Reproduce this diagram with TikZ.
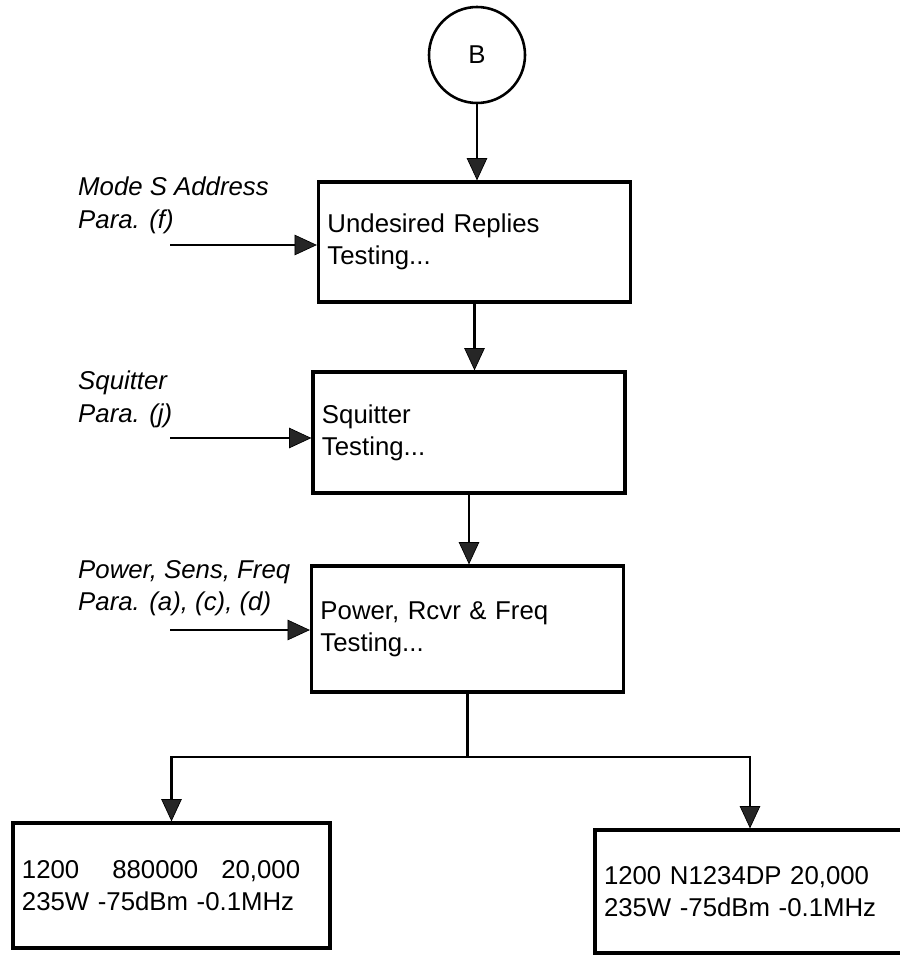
\documentclass[tikz,border=0pt]{standalone}
\usepackage{fontspec}
\setmainfont{Liberation Sans}
\usetikzlibrary{arrows.meta}
\newcommand{\stagefont}{\fontsize{22}{27.4}\selectfont}

\begin{document}
\begin{tikzpicture}[
    x=0.03cm, y=-0.03cm,
    stage/.style={draw, line width=2.8pt, minimum width=9.36cm, text width=8.82cm, inner xsep=0.27cm, align=left, font=\stagefont},
    result/.style={draw, line width=2.8pt, inner xsep=0.27cm, align=left, font=\stagefont},
    note/.style={inner sep=0pt, anchor=north west, align=left, font=\stagefont\itshape},
    flow/.style={-{Triangle[length=19pt, width=17.5pt, line width=0.6pt, fill=black!85]}, line width=2.5pt},
    link/.style={line width=2.5pt},
]
    \useasboundingbox (0,0) rectangle (899,958);

    % Connector circle
    \node[draw, circle, line width=2.2pt, minimum size=2.88cm, font=\stagefont] (cB) at (477,55) {B};

    % Test stages
    \node[stage, minimum height=3.6cm] (b1) at (474.5,242) {Undesired Replies\\Testing...};
    \node[stage, minimum height=3.63cm] (b2) at (469,432.5) {Squitter\\Testing...};
    \node[stage, minimum height=3.78cm] (b3) at (467.5,629) {Power, Rcvr \& Freq\\Testing...};

    % Input parameters
    \node[note] (p1) at (78,177) {Mode S Address\\Para. (f)};
    \node[note] (p2) at (78,371) {Squitter\\Para. (j)};
    \node[note] (p3) at (78,560) {Power, Sens, Freq\\Para. (a), (c), (d)};
    \coordinate (in1) at (170,245);
    \coordinate (in2) at (170,438);
    \coordinate (in3) at (170,630);

    % Results
    \node[result, text width=8.97cm, minimum height=3.75cm] (r1) at (171.5,885.5) {1200\hspace{0.99cm}880000\hspace{0.69cm}20,000\\235W -75dBm -0.1MHz};
    \node[result, text width=8.76cm, minimum height=3.69cm] (r2) at (750,891.5) {1200 N1234DP 20,000\\235W -75dBm -0.1MHz};

    % Arrows
    \draw[flow] (cB.south) -- (cB.south |- b1.north);
    \draw[flow] (b1.south) -- (b1.south |- b2.north);
    \draw[flow] (b2.south) -- (b2.south |- b3.north);
    \draw[flow] (in1) -- (in1 -| b1.west);
    \draw[flow] (in2) -- (in2 -| b2.west);
    \draw[flow] (in3) -- (in3 -| b3.west);
    \coordinate (fork) at (b3.south |- 0,757);
    \draw[link] (b3.south) -- (fork);
    \draw[flow] (fork) -| (r1.north);
    \draw[flow] (fork) -| (r2.north);
\end{tikzpicture}
\end{document}
